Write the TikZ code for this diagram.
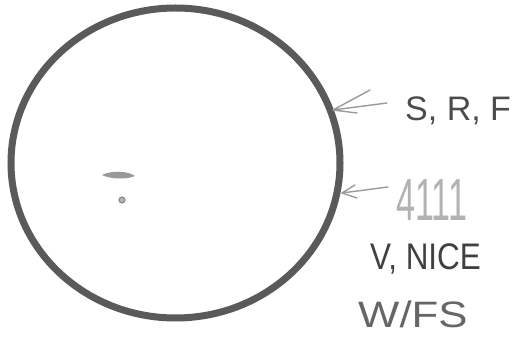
\documentclass[tikz,border=0pt]{standalone}
\usepackage{fontspec}
\setmainfont{Liberation Sans}
\usetikzlibrary{shapes.geometric}
\definecolor{ring}{HTML}{5A5A5A}
\definecolor{arrowc}{HTML}{9A9A9A}
\tikzset{
  pointer/.style={draw=arrowc, line width=1.4pt, line cap=round, line join=round},
  note/.style={inner sep=0pt, anchor=base west},
}
\begin{document}
\begin{tikzpicture}[x=1pt,y=-1pt]
\useasboundingbox[fill=white] (0,0) rectangle (517,344);
\node[ellipse, draw=ring, line width=7pt, minimum width=329pt, minimum height=310pt, inner sep=0pt] (c) at (175.5,163) {};
% small marks inside
\fill[gray!80] (102,175) .. controls (112,170) and (128,171) .. (135,176) .. controls (126,180) and (110,179) .. (102,175) -- cycle;
\draw[gray!90, fill=gray!60, line width=1.2pt] (122,200) circle (3pt);
% labels
\node[note, text=black!70] (srf) at (405,121) {\fontsize{34}{34}\selectfont S, R, F};
\node[note, text=black!30] (num) at (396,221) {\scalebox{0.62}[1.08]{\fontsize{55}{55}\selectfont 4111}};
\node[note, text=black!75] (nice) at (370,270) {\scalebox{0.85}[1]{\fontsize{37}{37}\selectfont V, NICE}};
\node[note, text=black!60] (wfs) at (358,328) {\scalebox{1.25}[1.05]{\fontsize{35}{35}\selectfont W/FS}};
% arrows
\coordinate (t1) at (333,110);
\coordinate (s1) at (387,103);
\coordinate (t2) at (342,193);
\coordinate (s2) at (388,187);
\draw[pointer] (s1) -- (t1) -- (370,90);
\draw[pointer] (t1) -- (357,113);
\draw[pointer] (s2) -- (t2) -- (355,185);
\draw[pointer] (t2) -- (357,198);
\end{tikzpicture}
\end{document}
